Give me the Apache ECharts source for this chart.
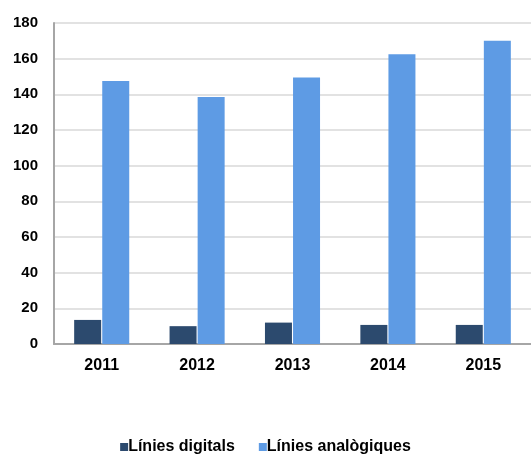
<!DOCTYPE html>
<html>
<head>
<meta charset="utf-8">
<script src="https://cdn.jsdelivr.net/npm/echarts@6/dist/echarts.min.js"></script>
<style>
  html, body { margin: 0; padding: 0; background: #fff; }
  #main { width: 531px; height: 454px; }
</style>
</head>
<body>
<div id="main"></div>
<script>
const years = ['2011', '2012', '2013', '2014', '2015'];
const digitals = [13.5, 10, 12, 10.7, 10.7];
const analogiques = [147.5, 138.5, 149.5, 162.5, 170];

const font = 'Liberation Sans, Arial, sans-serif';

let myChart = echarts.init(document.getElementById('main'));
myChart.setOption({
  animation: false,
  grid: { left: 54, right: 0, top: 23, bottom: 110 },
  legend: {
    top: 434,
    left: 'center',
    itemWidth: 8,
    itemHeight: 8,
    itemGap: 24,
    icon: 'rect',
    textStyle: { fontFamily: font, fontSize: 16, color: '#000', fontWeight: 'bold', padding: [0, 0, 0, -5] },
    data: ['Línies digitals', 'Línies analògiques']
  },
  xAxis: {
    type: 'category',
    data: years,
    axisLine: { lineStyle: { color: '#a6a6a6', width: 2 } },
    axisTick: { show: false },
    axisLabel: { fontFamily: font, fontSize: 16, color: '#000', fontWeight: 'bold', margin: 14 }
  },
  yAxis: {
    type: 'value',
    min: 0,
    max: 180,
    interval: 20,
    axisLine: { show: true, lineStyle: { color: '#a6a6a6', width: 2 } },
    axisTick: { show: false },
    splitLine: { lineStyle: { color: '#d9d9d9', width: 1.5 } },
    axisLabel: { fontFamily: font, fontSize: 15, color: '#000', fontWeight: 'bold', margin: 16 }
  },
  series: [
    {
      name: 'Línies digitals',
      type: 'bar',
      data: digitals,
      barWidth: 27,
      barGap: '4%',
      itemStyle: { color: '#2c4a6e' }
    },
    {
      name: 'Línies analògiques',
      type: 'bar',
      data: analogiques,
      barWidth: 27,
      itemStyle: { color: '#5e9be4' }
    }
  ]
});
</script>
</body>
</html>
